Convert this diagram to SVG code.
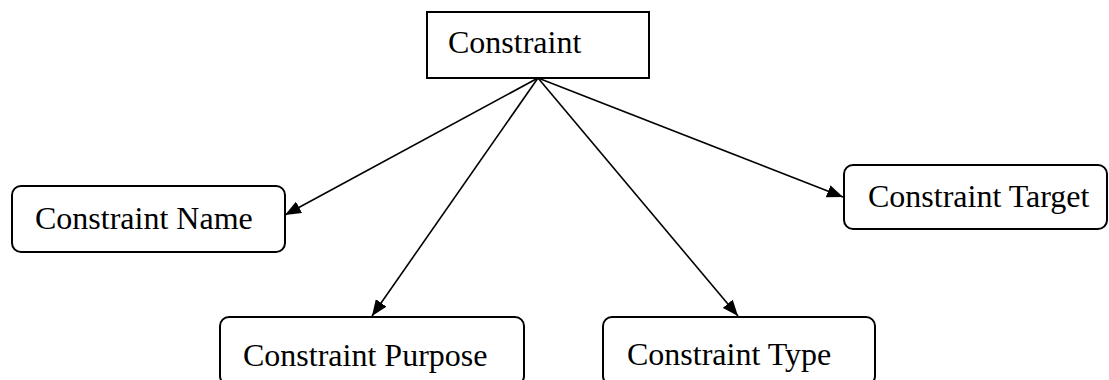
<svg xmlns="http://www.w3.org/2000/svg" width="1109" height="380" viewBox="0 0 1109 380">
  <defs>
    <marker id="arrow" markerUnits="userSpaceOnUse" markerWidth="17" markerHeight="13" refX="16" refY="6.5" orient="auto">
      <path d="M0,0 L16,6.5 L0,13 z" fill="#000"/>
    </marker>
    <style>
      .box { fill: #fff; stroke: #000; stroke-width: 2; }
      .label { font-family: "Liberation Serif", "Times New Roman", serif; font-size: 32px; fill: #000; }
      .edge { stroke: #000; stroke-width: 1.6; fill: none; marker-end: url(#arrow); }
    </style>
  </defs>
  <rect width="1109" height="380" fill="#fff"/>

  <g id="connectors">
    <line class="edge" x1="538" y1="78" x2="285" y2="215"/>
    <line class="edge" x1="538" y1="78" x2="372" y2="316"/>
    <line class="edge" x1="538" y1="78" x2="738" y2="316"/>
    <line class="edge" x1="538" y1="78" x2="843" y2="197"/>
  </g>

  <g id="constraint">
    <rect class="box" x="427" y="12" width="222" height="66"/>
    <text class="label" x="448" y="53">Constraint</text>
  </g>

  <g id="constraint-name">
    <rect class="box" x="12" y="186" width="273" height="66" rx="9"/>
    <text class="label" x="35" y="229">Constraint Name</text>
  </g>

  <g id="constraint-target">
    <rect class="box" x="844" y="165" width="263" height="64" rx="9"/>
    <text class="label" x="868" y="207">Constraint Target</text>
  </g>

  <g id="constraint-purpose">
    <rect class="box" x="220" y="317" width="304" height="68" rx="9"/>
    <text class="label" x="243" y="366">Constraint Purpose</text>
  </g>

  <g id="constraint-type">
    <rect class="box" x="603" y="317" width="272" height="68" rx="9"/>
    <text class="label" x="627" y="365">Constraint Type</text>
  </g>
</svg>
